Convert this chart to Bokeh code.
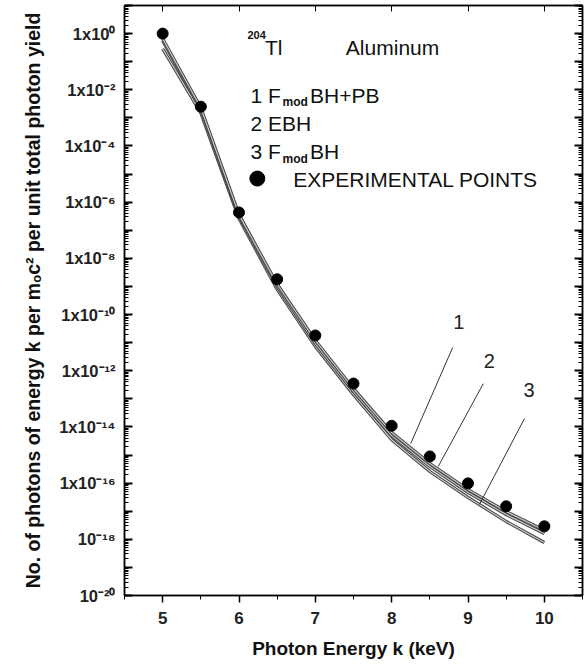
from bokeh.plotting import figure
from bokeh.models import Range1d, FixedTicker, LinearAxis, LogAxis, Label
from bokeh.core.properties import value
from bokeh.embed import file_html
from bokeh.resources import INLINE

# ---------------- data ----------------
energy = [5.0, 5.5, 6.0, 6.5, 7.0, 7.5, 8.0, 8.5, 9.0, 9.5, 10.0]
# curve 1: F_mod BH + PB
curve1 = [6.6e-1, 2.3e-3, 3.6e-7, 1.2e-9, 1.2e-11, 2.3e-13, 6.3e-15, 5.0e-16, 5.9e-17, 9.7e-18, 2.1e-18]
# curve 2: EBH
curve2 = [5.6e-1, 2.0e-3, 3.1e-7, 9.9e-10, 9.3e-12, 1.8e-13, 4.9e-15, 3.9e-16, 4.7e-17, 7.6e-18, 1.6e-18]
# curve 3: F_mod BH
curve3 = [2.9e-1, 1.5e-3, 2.6e-7, 7.8e-10, 7.3e-12, 1.4e-13, 3.5e-15, 2.6e-16, 3.1e-17, 4.3e-18, 7.7e-19]
# experimental points
exp_x = [5.0, 5.5, 6.0, 6.5, 7.0, 7.5, 8.0, 8.5, 9.0, 9.5, 10.0]
exp_y = [1.0, 2.5e-3, 4.3e-7, 1.8e-9, 1.8e-11, 3.5e-13, 1.1e-14, 8.9e-16, 9.8e-17, 1.5e-17, 2.9e-18]

x_ticks = [5, 6, 7, 8, 9, 10]
x_minor = [4.5, 5.5, 6.5, 7.5, 8.5, 9.5, 10.5]
y_decades = list(range(-20, 2))
y_label_exps = [0, -2, -4, -6, -8, -10, -12, -14, -16, -18, -20]
y_tick_labels = ["1x10⁰", "1x10⁻²", "1x10⁻⁴", "1x10⁻⁶", "1x10⁻⁸", "1x10⁻¹⁰",
                 "1x10⁻¹²", "1x10⁻¹⁴", "1x10⁻¹⁶", "10⁻¹⁸", "10⁻²⁰"]

curve_labels = ["1", "2", "3"]
# leader lines (x0, y0) -> (x1, y1), in data units
lead_x0 = [8.80, 9.20, 9.74]
lead_y0 = [10 ** -11.17, 10 ** -12.46, 10 ** -13.70]
lead_x1 = [8.25, 8.61, 9.15]
lead_y1 = [10 ** -14.59, 10 ** -15.41, 10 ** -16.76]
num_x = [8.88, 9.28, 9.80]
num_y = [10 ** -10.28, 10 ** -11.64, 10 ** -12.70]

FONT = "Liberation Sans"
X0, X1 = 4.5, 10.5

p = figure(width=584, height=669, y_axis_type="log",
           x_range=Range1d(X0, X1), y_range=Range1d(1e-20, 1e1),
           output_backend="svg", toolbar_location=None,
           min_border_left=124, min_border_right=2, min_border_top=5, min_border_bottom=74)
p.grid.visible = False
p.outline_line_color = "#222222"
p.outline_line_width = 1.5
p.background_fill_color = "white"
p.border_fill_color = "white"

# bottom axis
xa = p.xaxis[0]
xa.ticker = FixedTicker(ticks=x_ticks, minor_ticks=x_minor)
xa.major_tick_in = 0
xa.major_tick_out = 7
xa.minor_tick_in = 0
xa.minor_tick_out = 4
xa.axis_line_width = 1.5
xa.major_tick_line_width = 1.5
xa.major_label_text_font = FONT
xa.major_label_text_font_style = "bold"
xa.major_label_text_font_size = "17px"
xa.major_label_text_color = "#222222"
xa.major_label_standoff = 9
xa.axis_label = "Photon Energy k (keV)"
xa.axis_label_text_font = FONT
xa.axis_label_text_font_style = "bold"
xa.axis_label_text_font_size = "19px"
xa.axis_label_text_color = "#111111"
xa.axis_label_standoff = 11

y_major = [10.0 ** k for k in y_decades]
y_minor = [m * 10.0 ** k for k in range(-20, 1) for m in range(2, 10)]
blank_y = {float(t): "" for t in y_major}
y_overrides = dict(blank_y)
for e, lab_txt in zip(y_label_exps, y_tick_labels):
    y_overrides[float(10.0 ** e)] = lab_txt

ya = p.yaxis[0]
ya.ticker = FixedTicker(ticks=y_major, minor_ticks=y_minor)
ya.major_label_overrides = y_overrides
ya.major_tick_in = 8
ya.major_tick_out = 0
ya.minor_tick_in = 4
ya.minor_tick_out = 0
ya.axis_line_width = 1.5
ya.major_tick_line_width = 2
ya.major_label_text_font = FONT
ya.major_label_text_font_style = "bold"
ya.major_label_text_font_size = "16.5px"
ya.major_label_text_color = "#222222"
ya.major_label_standoff = 9
ya.axis_label = "No. of photons of energy k per mₒc² per unit total photon yield"
ya.axis_label_text_font = FONT
ya.axis_label_text_font_style = "bold"
ya.axis_label_text_font_size = "19.5px"
ya.axis_label_text_color = "#111111"
ya.axis_label_standoff = 12

ra = LogAxis(ticker=FixedTicker(ticks=y_major, minor_ticks=y_minor),
             major_tick_in=8, major_tick_out=0, minor_tick_in=4, minor_tick_out=0,
             major_tick_line_width=2, axis_line_width=1.5,
             major_label_overrides=blank_y, major_label_standoff=0)
p.add_layout(ra, "right")
ta = LinearAxis(ticker=FixedTicker(ticks=x_ticks), major_tick_in=6, major_tick_out=0,
                minor_tick_in=0, minor_tick_out=0, axis_line_width=1.5,
                major_label_overrides={float(t): "" for t in x_ticks}, major_label_standoff=0)
p.add_layout(ta, "above")

# curves (double stroke look)
for cy in (curve3, curve2, curve1):
    p.line(energy, cy, line_color="#444444", line_width=3.2)
    p.line(energy, cy, line_color="#c8c8c8", line_width=1.2)

# leader lines and numbers
p.segment(lead_x0, lead_y0, lead_x1, lead_y1, line_color="#333333", line_width=1)
p.text(x=num_x, y=num_y, text=curve_labels, text_font=value(FONT), text_font_size="20px",
       text_color="#222222", text_align="center", text_baseline="middle")

# experimental points
p.scatter(exp_x, exp_y, size=11, marker="circle", fill_color="black", line_color="black")

# legend-like annotations
def lab(x, y, t, size, style="normal"):
    p.add_layout(Label(x=x, y=y, text=t, text_font=FONT, text_font_size=size,
                       text_font_style=style, text_color="#111111",
                       text_align="left", text_baseline="alphabetic"))

lab(6.11, 10 ** -0.05, "204", "11px", "bold")
lab(6.34, 10 ** -0.50, "Tl", "21px")
lab(7.40, 10 ** -0.50, "Aluminum", "21px")
lab(6.15, 10 ** -2.20, "1 F", "21px")
lab(6.57, 10 ** -2.45, "mod", "12px", "bold")
lab(6.93, 10 ** -2.20, "BH+PB", "21px")
lab(6.15, 10 ** -3.20, "2 EBH", "21px")
lab(6.15, 10 ** -4.20, "3 F", "21px")
lab(6.57, 10 ** -4.45, "mod", "12px", "bold")
lab(6.93, 10 ** -4.20, "BH", "21px")
p.scatter([6.24], [10 ** -5.16], size=15, marker="circle", fill_color="black", line_color="black")
lab(6.71, 10 ** -5.20, "EXPERIMENTAL POINTS", "21px")

open("out.html", "w").write(file_html(p, INLINE))
